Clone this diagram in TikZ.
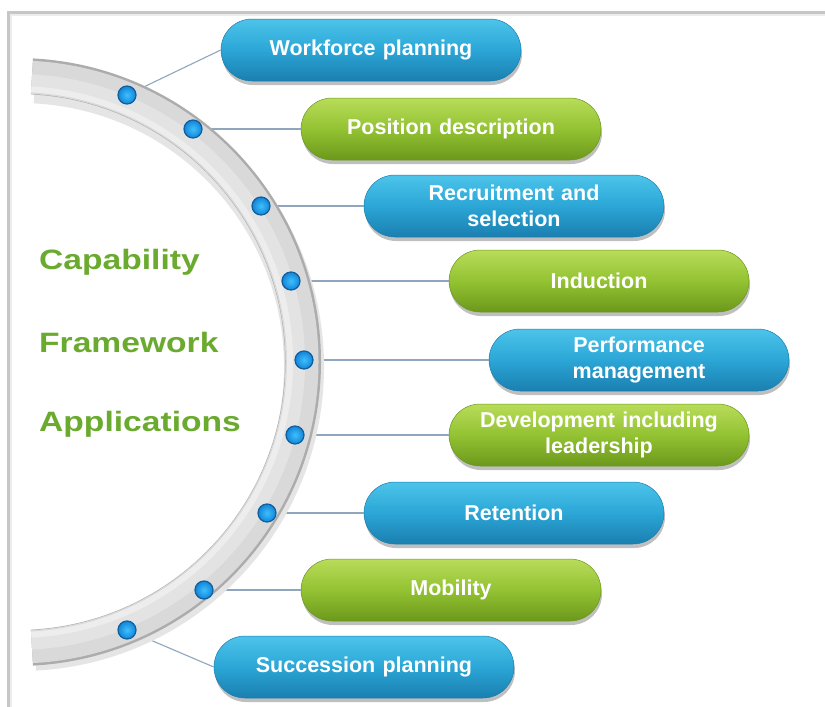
\documentclass[tikz,border=0pt]{standalone}
\usepackage{fontspec}
\setmainfont{Liberation Sans}
\newfontfamily\titlefont[FakeStretch=1.2]{Liberation Sans}
\usetikzlibrary{shadows,shapes.misc}
\definecolor{bluetop}{HTML}{4CC4EA}
\definecolor{bluemid}{HTML}{2BA6D6}
\definecolor{bluebot}{HTML}{1A7FB0}
\definecolor{greentop}{HTML}{B9DC5A}
\definecolor{greenmid}{HTML}{93C232}
\definecolor{greenbot}{HTML}{6C981C}
\definecolor{titlegreen}{HTML}{6AAA2E}
\definecolor{linkcol}{HTML}{8FA6BE}
\definecolor{dotin}{HTML}{3DC0FF}
\definecolor{dotout}{HTML}{1484D6}
\definecolor{dotrim}{HTML}{0F5E9E}
\begin{document}
\begin{tikzpicture}[x=1pt,y=-1pt,
  pill/.style={rounded rectangle, minimum width=300pt, minimum height=62pt,
    text width=262pt, align=center, inner sep=0pt, text=white,
    font=\fontsize{21.5}{26}\selectfont\bfseries,
    drop shadow={shadow xshift=1pt, shadow yshift=-4pt, opacity=0.25, fill=black}},
  bluepill/.style={pill, top color=bluetop, bottom color=bluebot, middle color=bluemid,
    draw=bluebot, line width=0.5pt},
  greenpill/.style={pill, top color=greentop, bottom color=greenbot, middle color=greenmid,
    draw=greenbot, line width=0.5pt},
  dotnode/.style={circle, minimum size=18pt, inner sep=0pt, inner color=dotin,
    outer color=dotout, draw=dotrim, line width=1.2pt},
  link/.style={draw=linkcol, line width=1.1pt},
  titletext/.style={anchor=base west, inner sep=0pt, text=titlegreen,
    font=\titlefont\fontsize{28}{32}\selectfont\bfseries}
]
\useasboundingbox (0,0) rectangle (825,707);
\fill[white] (0,0) rectangle (825,707);
% frame
\draw[gray!45, line width=3pt] (8,707) -- (8,12) -- (825,12);
\draw[gray!15, line width=2pt] (11,707) -- (11,15) -- (825,15);

% pills
\node[bluepill]  (p1) at (371,50)  {Workforce planning};
\node[greenpill] (p2) at (451,129) {Position description};
\node[bluepill]  (p3) at (514,206) {Recruitment and\\selection};
\node[greenpill] (p4) at (599,281) {Induction};
\node[bluepill]  (p5) at (639,360) {Performance\\management};
\node[greenpill] (p6) at (599,435) {Development including\\leadership};
\node[bluepill]  (p7) at (514,513) {Retention};
\node[greenpill] (p8) at (451,590) {Mobility};
\node[bluepill]  (p9) at (364,667) {Succession planning};

% dot positions
\coordinate (c1) at (127,95);
\coordinate (c2) at (193,129);
\coordinate (c3) at (261,206);
\coordinate (c4) at (291,281);
\coordinate (c5) at (304,360);
\coordinate (c6) at (295,435);
\coordinate (c7) at (267,513);
\coordinate (c8) at (204,590);
\coordinate (c9) at (127,630);

% connectors (drawn behind the band)
\foreach \i in {1,...,9} {\draw[link] (c\i) -- (p\i.west);}

% band
\coordinate (ctr) at (17,362);
\draw[black!10, line width=40pt] ([shift={(-87:284)}]20,367) arc[start angle=-87, end angle=87, radius=284];
\draw[gray!65, line width=36pt] ([shift={(-87:286)}]ctr) arc[start angle=-87, end angle=87, radius=286];
\draw[gray!30, line width=33pt] ([shift={(-87:285)}]ctr) arc[start angle=-87, end angle=87, radius=285];
\draw[gray!22, line width=18pt] ([shift={(-87:279)}]ctr) arc[start angle=-87, end angle=87, radius=279];
\draw[gray!14, line width=6pt] ([shift={(-87:273)}]ctr) arc[start angle=-87, end angle=87, radius=273];

% dots
\foreach \i in {1,...,9} {\node[dotnode] (d\i) at (c\i) {};}

% title
\node[titletext] (t1) at (39,269) {Capability};
\node[titletext] (t2) at (39,352) {Framework};
\node[titletext] (t3) at (39,431) {Applications};
\end{tikzpicture}
\end{document}
